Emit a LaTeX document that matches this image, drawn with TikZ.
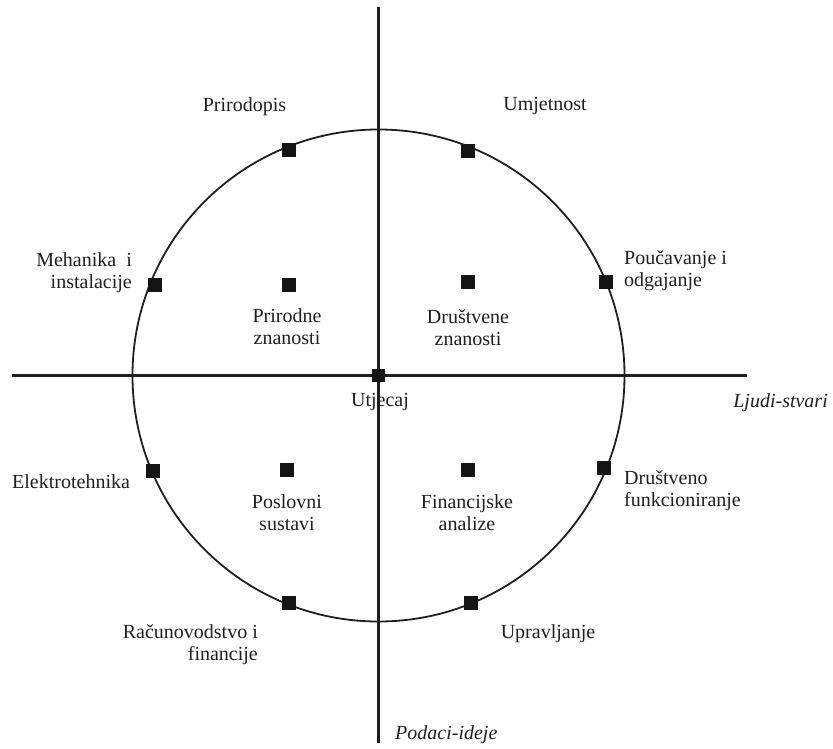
\documentclass[tikz,border=0pt]{standalone}
\usepackage{fontspec}
\setmainfont{Liberation Serif}
\begin{document}
\begin{tikzpicture}[x=1pt,y=-1pt,
  sq/.style={fill=black!92,draw=none,minimum size=13.5pt,inner sep=0pt,rectangle},
  lbl/.style={inner sep=0pt,font=\fontsize{20}{22}\selectfont,text=black!88},
  axis/.style={line width=2.3pt,draw=black!88},
  ring/.style={line width=1.8pt,draw=black!88}]
\useasboundingbox (0,0) rectangle (833,748);
% axes
\coordinate (top) at (378.5,7);
\coordinate (bot) at (378.5,743);
\coordinate (lft) at (12,375.5);
\coordinate (rgt) at (747,375.5);
\coordinate (c) at (378.5,375.5);
\draw[axis] (top) -- (bot);
\draw[axis] (lft) -- (rgt);
\draw[ring] (c) circle (246);
% squares
\node[sq] (cen) at (c) {};
\node[sq] (s1) at (289,150) {};
\node[sq] (s2) at (468,151) {};
\node[sq] (s3) at (155,285) {};
\node[sq] (s4) at (606,282) {};
\node[sq] (s5) at (153,471) {};
\node[sq] (s6) at (604,468) {};
\node[sq] (s7) at (289,603) {};
\node[sq] (s8) at (471,603) {};
\node[sq] (i1) at (289,285) {};
\node[sq] (i2) at (468,282) {};
\node[sq] (i3) at (287,470) {};
\node[sq] (i4) at (468,470) {};
% labels
\node[lbl] (t1) at (244.5,107) {Prirodopis};
\node[lbl] (t2) at (545,106) {Umjetnost};
\node[lbl,anchor=east,align=right] (t3) at (132,273) {Mehanika\ \ i\\instalacije};
\node[lbl,anchor=west,align=left] (t4) at (624,271) {Poučavanje i\\odgajanje};
\node[lbl,align=center] (t5) at (287,327) {Prirodne\\znanosti};
\node[lbl,align=center] (t6) at (468,328) {Društvene\\znanosti};
\node[lbl] (t7) at (380,402) {Utjecaj};
\node[lbl,anchor=east,font=\fontsize{20}{22}\selectfont\itshape] (t8) at (828,403) {Ljudi-stvari};
\node[lbl,anchor=west] (t9) at (12,482) {Elektrotehnika};
\node[lbl,anchor=west,align=left] (t10) at (624,491) {Društveno\\funkcioniranje};
\node[lbl,align=center] (t11) at (287,513) {Poslovni\\sustavi};
\node[lbl,align=center] (t12) at (467,513) {Financijske\\analize};
\node[lbl,anchor=east,align=right] (t13) at (258,645) {Računovodstvo i\\financije};
\node[lbl] (t14) at (548,634) {Upravljanje};
\node[lbl,anchor=west,font=\fontsize{20}{22}\selectfont\itshape] (t15) at (395,735) {Podaci-ideje};
\end{tikzpicture}
\end{document}
